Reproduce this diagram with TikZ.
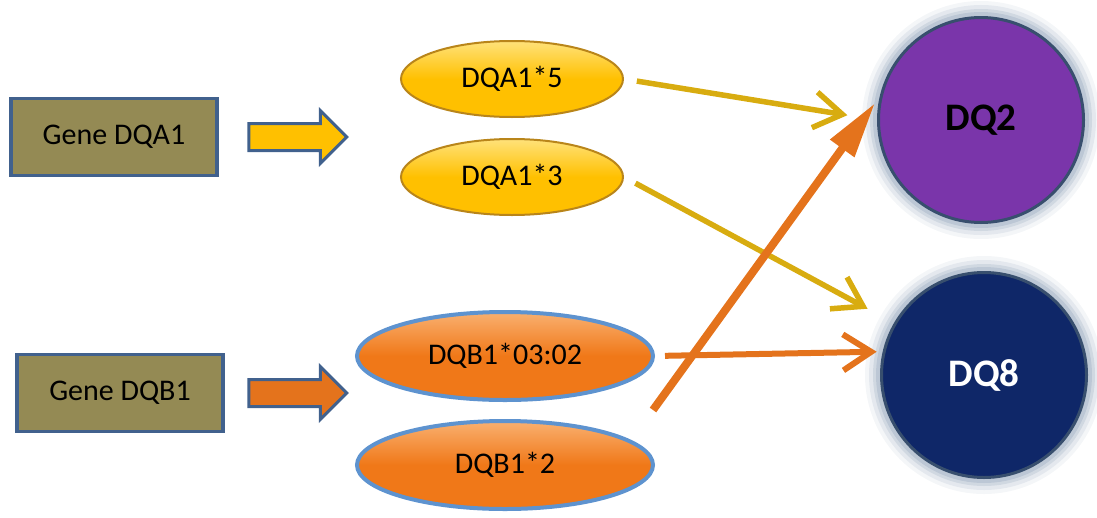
\documentclass[tikz,border=0pt]{standalone}
\usepackage{fontspec}
\setmainfont{Carlito}
\usetikzlibrary{shapes.geometric,shapes.arrows,arrows.meta}
\definecolor{geneolive}{HTML}{948A54}
\definecolor{frameblue}{HTML}{41618D}
\definecolor{allyellow}{HTML}{FFC000}
\definecolor{allyellowlt}{HTML}{FFE27A}
\definecolor{yrim}{HTML}{B9851A}
\definecolor{allorange}{HTML}{F07818}
\definecolor{allorangelt}{HTML}{F9B070}
\definecolor{orim}{HTML}{5E93CF}
\definecolor{lineyellow}{HTML}{D8AC10}
\definecolor{lineorange}{HTML}{E4731C}
\definecolor{dqpurple}{HTML}{7A35AA}
\definecolor{dqnavy}{HTML}{0F2768}
\definecolor{dqrim}{HTML}{384F6E}
\definecolor{glowblue}{HTML}{A3B2C5}

\begin{document}
\begin{tikzpicture}[x=1pt,y=-1pt]
\tikzstyle{every node}=[inner sep=0pt, font=\fontsize{30}{34}\selectfont]
\tikzstyle{gene}=[rectangle, draw=frameblue, line width=3.5pt, fill=geneolive, minimum width=206, minimum height=77]
\tikzstyle{block}=[single arrow, draw=frameblue, line width=3pt, inner xsep=0pt, inner ysep=12pt, minimum height=98, single arrow head extend=13, single arrow head indent=0]
\tikzstyle{alla}=[ellipse, draw=yrim, line width=2pt, top color=allyellowlt, bottom color=allyellow, middle color=allyellow, minimum width=222, minimum height=76]
\tikzstyle{allb}=[ellipse, draw=orim, line width=4pt, top color=allorangelt, bottom color=allorange, middle color=allorange, minimum width=296, minimum height=88]
\tikzstyle{dq}=[circle, draw=dqrim, line width=3pt, minimum size=205, font=\fontsize{39}{42}\selectfont\bfseries]
\tikzstyle{yarrow}=[draw=lineyellow, line width=5.5pt, -{Straight Barb[length=28pt,width=36pt]}]
\tikzstyle{oarrow}=[draw=lineorange, line width=6pt, -{Straight Barb[length=28pt,width=36pt]}]
\useasboundingbox (0,0) rectangle (1097,517);

% genes
\draw (114,137) node (dqa) [gene] {Gene DQA1};
\draw (120,393) node (dqb) [gene] {Gene DQB1};
\draw (291,137) node (pa) [block, fill=allyellow] {};
\draw (291,393) node (pb) [block, fill=lineorange] {};

% alleles
\draw (512,79) node (a5) [alla] {DQA1*5};
\draw (512,177) node (a3) [alla] {DQA1*3};
\draw (505,356) node (b302) [allb] {DQB1*03:02};
\draw (505,465) node (b2) [allb] {DQB1*2};

% haplotypes
\foreach \w/\o in {30/0.12,22/0.2,14/0.3,8/0.45} {
  \draw[glowblue, line width=\w pt, opacity=\o] (981,120) circle (104);
  \draw[glowblue, line width=\w pt, opacity=\o] (984,375) circle (104);
}
\draw (981,120) node (dq2) [dq, fill=dqpurple, text=black] {DQ2};
\draw (984,375) node (dq8) [dq, fill=dqnavy, text=white] {DQ8};

\coordinate (b2out) at (653,410);
\draw[yarrow, shorten <=13pt, shorten >=30pt] (a5.east) -- (dq2.west);
\draw[yarrow, shorten <=13pt, shorten >=30pt] (a3.east) -- (dq8.150);
\draw[draw=lineorange, line width=8pt, shorten >=8pt, -{Triangle[length=56pt,width=28pt]}] (b2out) -- (dq2.167);
\draw[oarrow, shorten <=10pt, shorten >=6pt] (b302.east) -- (dq8.167);
\end{tikzpicture}
\end{document}
